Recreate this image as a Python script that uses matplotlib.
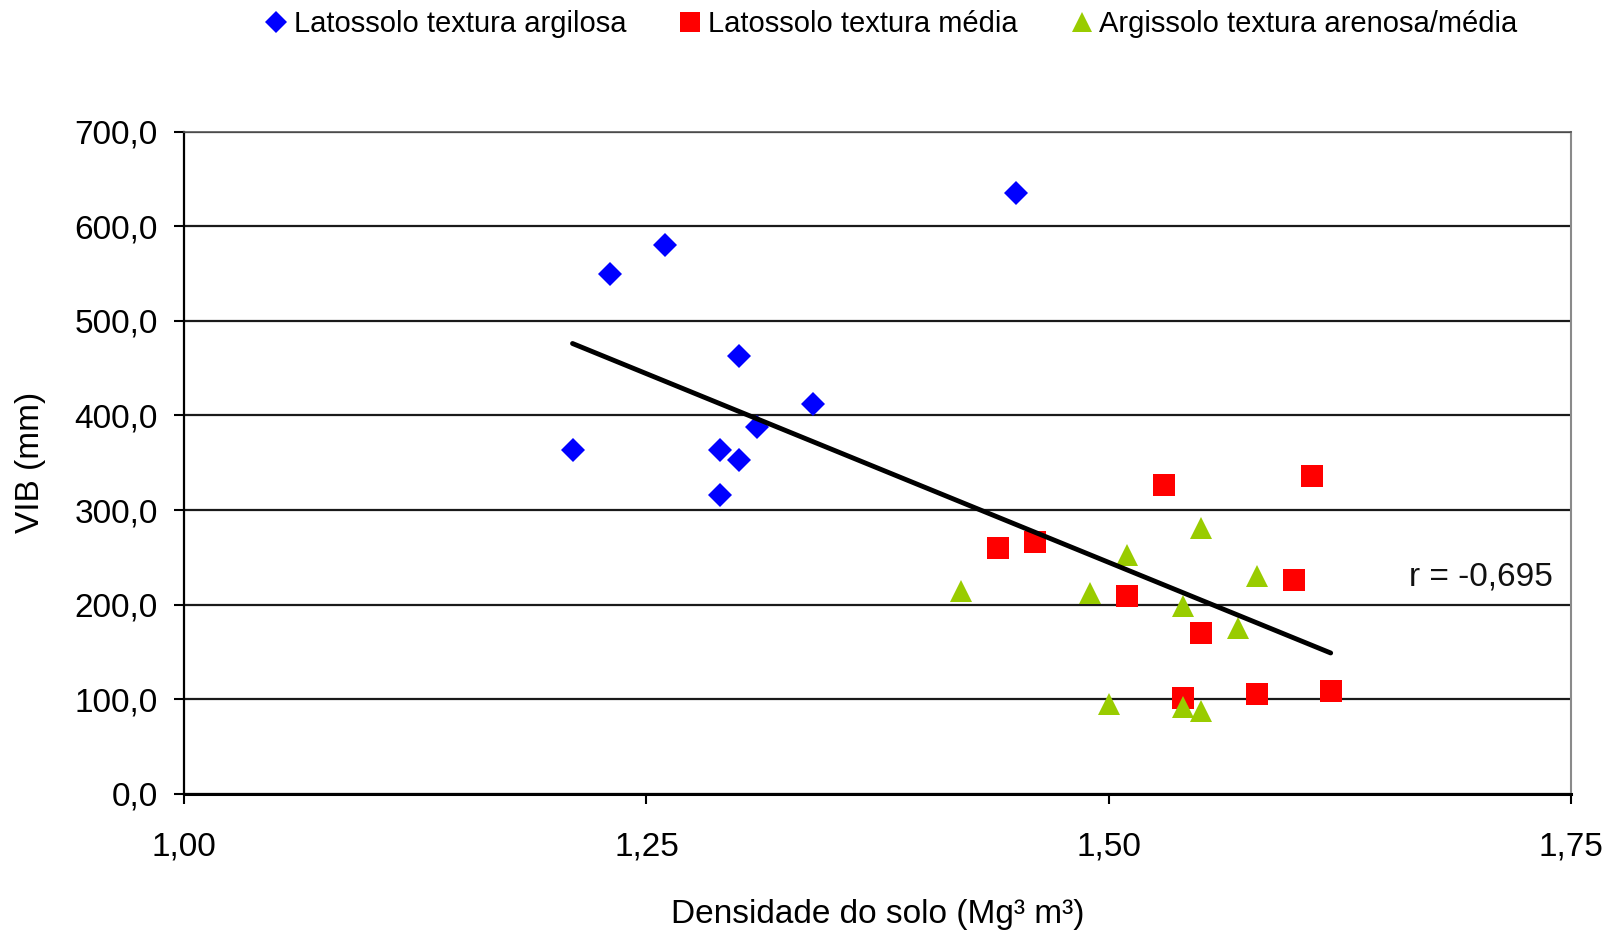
"""
VIB vs soil bulk density scatter with trend line.
"""

import matplotlib.pyplot as plt
from matplotlib.lines import Line2D

plt.rcParams["font.family"] = ["Liberation Sans", "DejaVu Sans"]

# ----------------------------------------------------------------------------
# Data
# ----------------------------------------------------------------------------
argilosa_x = [1.21, 1.23, 1.26, 1.45, 1.30, 1.34, 1.31, 1.29, 1.30, 1.29]
argilosa_y = [363, 549, 580, 635, 463, 412, 388, 364, 353, 316]

media_x = [1.53, 1.61, 1.44, 1.46, 1.51, 1.60, 1.55, 1.54, 1.58, 1.62]
media_y = [326, 336, 260, 266, 209, 226, 170, 101, 106, 109]

arenosa_x = [1.42, 1.49, 1.51, 1.55, 1.58, 1.54, 1.57, 1.50, 1.54, 1.55]
arenosa_y = [215, 212, 253, 281, 230, 199, 175, 95, 92, 88]

trend_x = [1.21, 1.62]
trend_y = [476, 149]

x_ticks = [1.00, 1.25, 1.50, 1.75]
x_ticklabels = ["1,00", "1,25", "1,50", "1,75"]
y_ticks = [0, 100, 200, 300, 400, 500, 600, 700]
y_ticklabels = ["0,0", "100,0", "200,0", "300,0", "400,0", "500,0", "600,0", "700,0"]

labels = ["Latossolo textura argilosa", "Latossolo textura média",
          "Argissolo textura arenosa/média"]
colors = ["#0000FF", "#FF0000", "#99CC00"]

# ----------------------------------------------------------------------------
# Figure
# ----------------------------------------------------------------------------
fig = plt.figure(figsize=(16.23, 9.34), dpi=100)
ax = fig.add_axes([0.1135, 0.1499, 0.8545, 0.7093])

ax.grid(axis="y", color="#1a1a1a", linewidth=1.6)
ax.set_axisbelow(True)

ax.plot(argilosa_x, argilosa_y, "D", color=colors[0], markersize=12, markeredgewidth=0,
        linestyle="none", zorder=3)
ax.plot(media_x, media_y, "s", color=colors[1], markersize=15.5, markeredgewidth=0,
        linestyle="none", zorder=3)
ax.plot(arenosa_x, arenosa_y, "^", color=colors[2], markersize=15.5, markeredgewidth=0,
        linestyle="none", zorder=3)

ax.plot(trend_x, trend_y, color="black", linewidth=3.5, solid_capstyle="round", zorder=4)

ax.text(1.7404, 229.5, "r = -0,695", ha="right", va="center", fontsize=24, color="#111111")

ax.set_xlim(1.00, 1.75)
ax.set_ylim(0, 700)
ax.set_xticks(x_ticks)
ax.set_xticklabels(x_ticklabels)
ax.set_yticks(y_ticks)
ax.set_yticklabels(y_ticklabels)

ax.tick_params(axis="both", direction="out", length=7, width=1.5, labelsize=24, colors="black")
ax.tick_params(axis="y", pad=12)
ax.tick_params(axis="x", pad=20)

ax.spines["left"].set_linewidth(1.6)
ax.spines["bottom"].set_linewidth(2.2)
ax.spines["right"].set_color("#8a8a8a")
ax.spines["right"].set_linewidth(1.5)
ax.spines["top"].set_color("#555555")
ax.spines["top"].set_linewidth(1.2)

ax.set_xlabel("Densidade do solo (Mg³ m³)", fontsize=24)
ax.xaxis.set_label_coords(0.5, -0.158)
ax.set_ylabel("VIB (mm)", fontsize=24)
ax.yaxis.set_label_coords(-0.1105, 0.5)
ax.yaxis.label.set_va("center")

handles = [
    Line2D([], [], marker="D", color=colors[0], linestyle="none", markersize=11, markeredgewidth=0),
    Line2D([], [], marker="s", color=colors[1], linestyle="none", markersize=15, markeredgewidth=0),
    Line2D([], [], marker="^", color=colors[2], linestyle="none", markersize=15, markeredgewidth=0),
]
fig.legend(handles, labels, loc="center", bbox_to_anchor=(0.549, 0.974), ncol=3,
           frameon=False, fontsize=21, handlelength=0.8, handletextpad=0.2,
           columnspacing=1.8, borderpad=0)

plt.savefig("out.png", dpi=100)
plt.close()
